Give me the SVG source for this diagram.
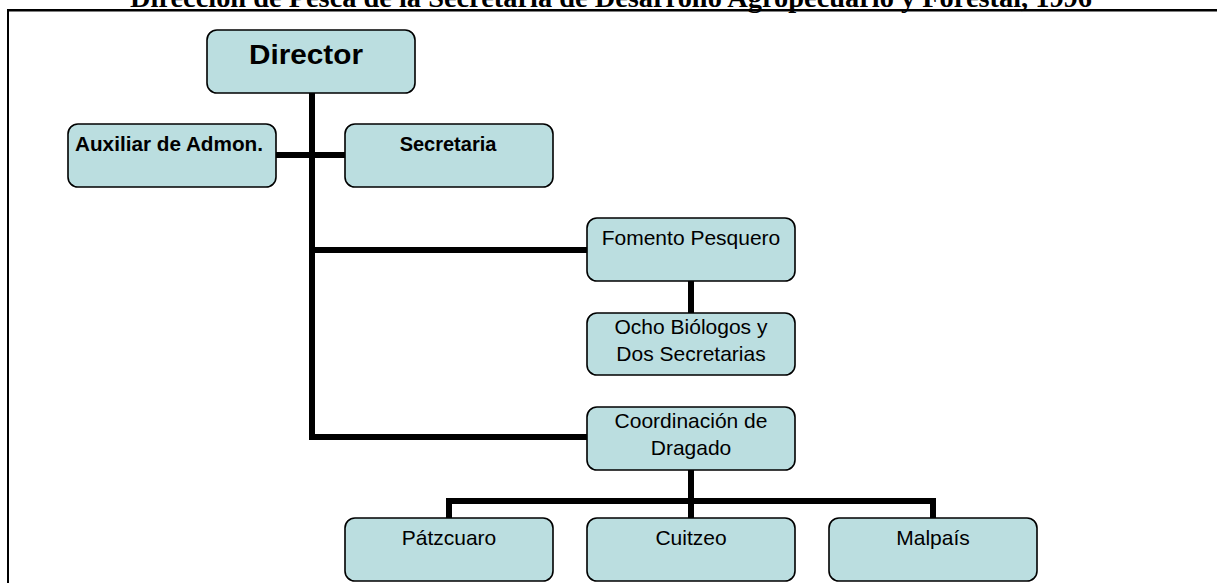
<svg xmlns="http://www.w3.org/2000/svg" width="1217" height="583" viewBox="0 0 1217 583">
<style>
.box{fill:#BBDEE0;stroke:#000;stroke-width:1.6}
.c{stroke:#000;stroke-width:6;fill:none;stroke-linecap:butt}
.t{font-family:"Liberation Sans",Arial,sans-serif;font-size:21px;fill:#000;text-anchor:middle}
.b{font-family:"Liberation Sans",Arial,sans-serif;font-size:20px;font-weight:bold;fill:#000}
.title{font-family:"Liberation Serif","Times New Roman",serif;font-size:28px;font-weight:bold;fill:#000}
</style>
<rect width="1217" height="583" fill="#fff"/>
<text class="title" x="130" y="7" textLength="962" lengthAdjust="spacingAndGlyphs">Dirección de Pesca de la Secretaria de Desarrollo Agropecuario y Forestal, 1996</text>
<g id="frame">
<line x1="7" y1="10.3" x2="1217" y2="10.3" stroke="#000" stroke-width="2.5"/>
<line x1="8" y1="9" x2="8" y2="583" stroke="#000" stroke-width="2"/>
</g>
<g id="connectors">
<line class="c" x1="312" y1="93" x2="312" y2="440"/>
<line class="c" x1="276" y1="155" x2="345" y2="155"/>
<line class="c" x1="312" y1="250" x2="587" y2="250"/>
<line class="c" x1="691" y1="281" x2="691" y2="313"/>
<line class="c" x1="309" y1="437" x2="587" y2="437"/>
<line class="c" x1="691" y1="470" x2="691" y2="518"/>
<path class="c" d="M449 518 V501 H933 V518"/>
</g>
<g id="director">
<rect class="box" x="207" y="30" width="208" height="63" rx="10"/>
<text class="b" x="306" y="64" style="font-size:28px" text-anchor="middle" textLength="114" lengthAdjust="spacingAndGlyphs">Director</text>
</g>
<g id="auxiliar">
<rect class="box" x="68" y="124" width="208" height="63" rx="10"/>
<text class="b" x="75" y="151" textLength="188" lengthAdjust="spacingAndGlyphs">Auxiliar de Admon.</text>
</g>
<g id="secretaria">
<rect class="box" x="345" y="124" width="208" height="63" rx="10"/>
<text class="b" x="448" y="151" text-anchor="middle">Secretaria</text>
</g>
<g id="fomento">
<rect class="box" x="587" y="218" width="208" height="63" rx="10"/>
<text class="t" x="691" y="245">Fomento Pesquero</text>
</g>
<g id="ocho">
<rect class="box" x="587" y="313" width="208" height="62" rx="10"/>
<text class="t" x="691" y="334">Ocho Biólogos y</text>
<text class="t" x="691" y="361">Dos Secretarias</text>
</g>
<g id="coordinacion">
<rect class="box" x="587" y="407" width="208" height="63" rx="10"/>
<text class="t" x="691" y="428">Coordinación de</text>
<text class="t" x="691" y="455">Dragado</text>
</g>
<g id="patzcuaro">
<rect class="box" x="345" y="518" width="208" height="63" rx="10"/>
<text class="t" x="449" y="545">Pátzcuaro</text>
</g>
<g id="cuitzeo">
<rect class="box" x="587" y="518" width="208" height="63" rx="10"/>
<text class="t" x="691" y="545">Cuitzeo</text>
</g>
<g id="malpais">
<rect class="box" x="829" y="518" width="208" height="63" rx="10"/>
<text class="t" x="933" y="545">Malpaís</text>
</g>
</svg>
